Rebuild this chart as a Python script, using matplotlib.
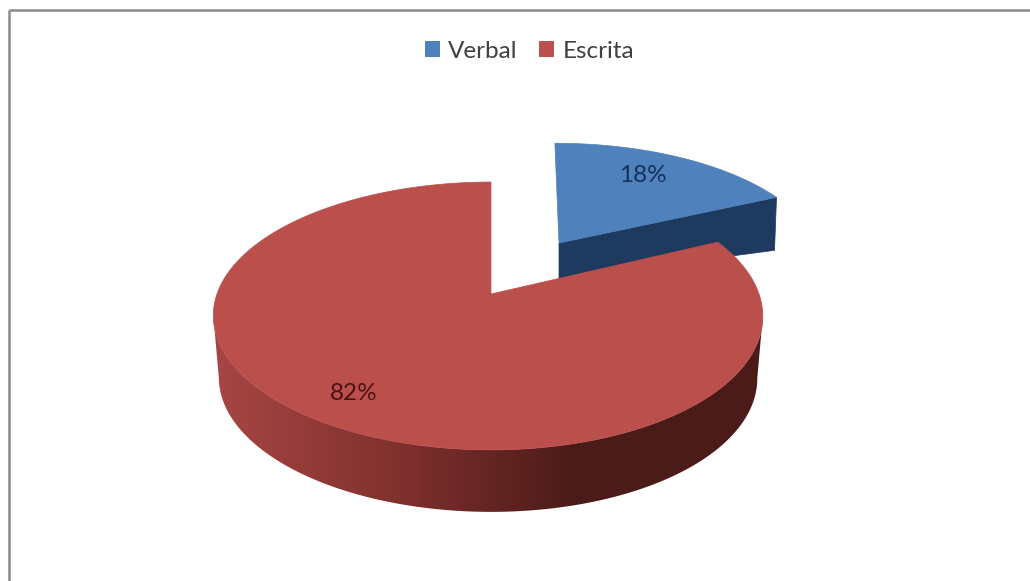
import numpy as np
import matplotlib.pyplot as plt
from matplotlib.colors import LinearSegmentedColormap
from matplotlib.patches import Patch, Polygon

labels = ["Verbal", "Escrita"]
shares = [18, 82]
face_colors = ["#4f81bd", "#bb4f4c"]
label_colors = ["#17305c", "#4a1212"]

W, H = 1030, 581


def project(t, x0=488, y0=294, sx=1.0, sy=1.0, shear=0.0):
    # t is clockwise from the top, squashed circle with some perspective
    u = np.sin(t)
    v = np.cos(t)
    d = 1 + 0.164 * v
    x = 271 * u / d + 3 * v ** 2
    y = (-82.1 * v + 294 * (1 - d)) / d
    return x0 + sx * x + shear * sy * y, y0 + sy * y


fig = plt.figure(figsize=(W / 100, H / 100), dpi=100)
ax = fig.add_axes([0, 0, 1, 1])
ax.axis("off")

split = 2 * np.pi * shares[0] / sum(shares)

# grey chart frame, only left and top are visible in the crop
ax.plot([9, 9], [H, 10], color="#8a8a8a", lw=1.8, solid_capstyle="butt")
ax.plot([9, W], [10, 10], color="#8a8a8a", lw=1.8, solid_capstyle="butt")

# exploded blue slice
blue_pos = dict(x0=556, y0=244, sx=0.968, sy=0.9, shear=0.04)
ta = np.linspace(0, split, 80)
bx, by = project(ta, **blue_pos)
ax.add_patch(Polygon([(559, 243), (bx[-1], by[-1]), (bx[-1] - 2, by[-1] + 53), (559, 279)],
                     fc="#1f3a5f", ec="#1f3a5f", lw=0.5))
ax.add_patch(Polygon(np.r_[[[559, 243]], np.c_[bx, by]], fc=face_colors[0], ec=face_colors[0], lw=0.5))

# red side wall with a horizontal gradient
front = np.linspace(np.pi / 2 + 0.165, 3 * np.pi / 2 - 0.165, 200)
fx, fy = project(front)
bot_x, bot_y = project(front, y0=356, sx=0.98)
wall = Polygon(np.r_[np.c_[fx, fy], np.c_[bot_x, bot_y][::-1]], fc="none", ec="none")
ax.add_patch(wall)
cmap = LinearSegmentedColormap.from_list(
    "side", [(0, "#a84644"), (0.35, "#7f302d"), (0.52, "#622422"), (0.66, "#4b1b19"), (1, "#4b1b19")]
)
img = ax.imshow(np.linspace(0, 1, 256)[None, :], cmap=cmap, extent=[212, 763, 530, 300], aspect="auto", zorder=1)
img.set_clip_path(wall)

# red slice top
tb = np.linspace(split, 2 * np.pi, 300)
rx, ry = project(tb)
ax.add_patch(Polygon(np.r_[[[491, 294]], np.c_[rx, ry]], fc=face_colors[1], ec=face_colors[1], lw=0.5, zorder=2))

ax.text(643, 175, f"{shares[0]}%", color=label_colors[0], fontsize=17.5, family="Lato", ha="center", va="center", zorder=3)
ax.text(354, 393, f"{shares[1]}%", color=label_colors[1], fontsize=17.5, family="Lato", ha="center", va="center", zorder=3)

handles = [Patch(fc=c, ec="none", label=l) for c, l in zip(face_colors, labels)]
ax.legend(handles=handles, ncol=2, frameon=False, loc="center", bbox_to_anchor=(529.5 / W, 1 - 51 / H),
          prop={"family": "Lato", "size": 17.5}, handlelength=0.62, handleheight=0.62,
          handletextpad=0.33, columnspacing=0.9, labelcolor="#404040")

ax.set_xlim(0, W)
ax.set_ylim(H, 0)
fig.savefig("out.png", dpi=100, facecolor="white")
